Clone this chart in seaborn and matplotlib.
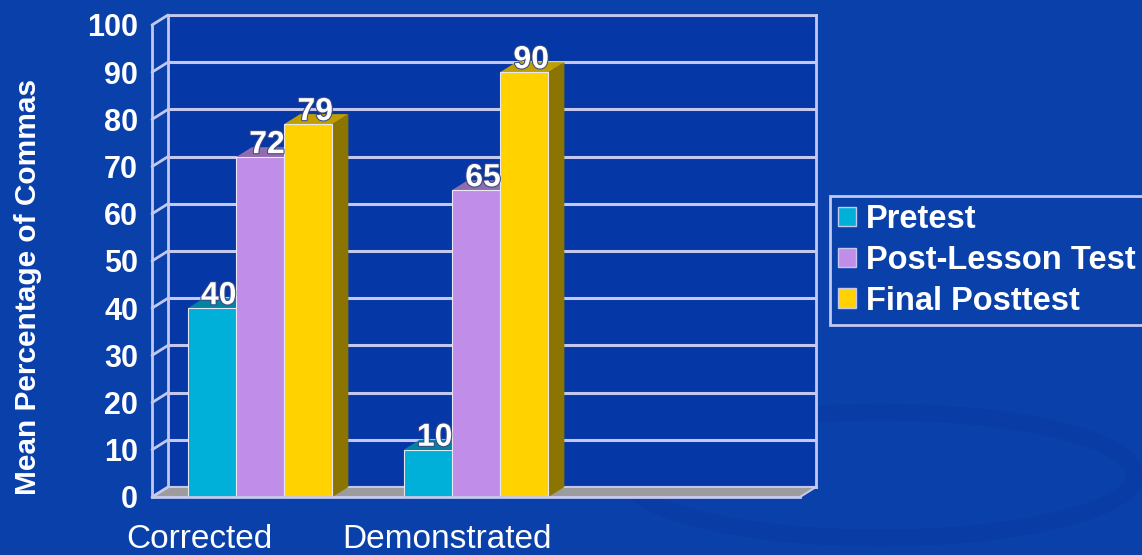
import matplotlib
matplotlib.use("Agg")
import matplotlib.pyplot as plt
from matplotlib.patches import Polygon, Rectangle, Ellipse
from matplotlib.colors import to_rgb
import matplotlib.patheffects as pe
import pandas as pd
import seaborn as sns

# data
categories = ["Corrected", "Demonstrated", ""]
tests = ["Pretest", "Post-Lesson Test", "Final Posttest"]
pretest = [40, 10]
post_lesson = [72, 65]
final_posttest = [79, 90]
yticks = list(range(0, 101, 10))

colors = ["#00b0d8", "#c08ee8", "#ffd200"]
bg = "#0a40aa"
wall = "#0537a6"
grid = "#c4c8ee"

rows = []
for test, vals in zip(tests, [pretest, post_lesson, final_posttest]):
    for cat, v in zip(categories, vals):
        rows.append({"category": cat, "test": test, "value": v})
df = pd.DataFrame(rows)

sns.set_style("white")
plt.rcParams["font.family"] = ["Liberation Sans", "DejaVu Sans"]

W, H = 1142, 555
def box(l, t, r, b):
    return [l / W, 1 - b / H, (r - l) / W, (b - t) / H]

fig = plt.figure(figsize=(W / 100, H / 100), dpi=100, facecolor=bg)

# faint swoosh in the background
fig.add_artist(Ellipse((880 / W, 1 - 475 / H), 510 / W, 126 / H, transform=fig.transFigure,
                       fill=False, ec="#08389e", lw=12, alpha=0.4, zorder=-1))

# back wall with gridlines
back = fig.add_axes(box(168, 15, 816, 487))
back.set_xlim(-0.5, 2.5)
back.set_ylim(0, 100)
back.set_facecolor(wall)
back.set_yticks(yticks)
back.set_xticks([])
back.tick_params(length=0, labelleft=False)
back.grid(axis="y", color=grid, lw=2.2)
for s in back.spines.values():
    s.set_color(grid)
    s.set_linewidth(2)

# front plane with the bars
ax = fig.add_axes(box(152, 25, 800, 497))
ax.patch.set_alpha(0)
sns.barplot(data=df, x="category", y="value", hue="test", order=categories, hue_order=tests,
            palette=colors, saturation=1, width=0.67, errorbar=None, ax=ax,
            edgecolor="#e8e8f4", linewidth=0.8, zorder=3)
ax.set_xlim(-0.5, 2.5)
ax.set_ylim(0, 100)
if ax.get_legend():
    ax.get_legend().remove()

# depth of the 3d effect in data units (16 px right, 10 px up)
dx = 16 / (648 / 3)
dy = 10 / (472 / 100)

def shade(c, f):
    r, g, b = to_rgb(c)
    return (r * f, g * f, b * f)

bars = [p for p in ax.patches if p.get_height() == p.get_height() and p.get_height() > 0]
for p in bars:
    x0, w, h = p.get_x(), p.get_width(), p.get_height()
    fc = p.get_facecolor()
    ax.add_patch(Polygon([(x0 + w, 0), (x0 + w + dx, dy), (x0 + w + dx, h + dy), (x0 + w, h)],
                         closed=True, fc=shade(fc, 0.55), ec="none", zorder=2, clip_on=False))
    ax.add_patch(Polygon([(x0, h), (x0 + w, h), (x0 + w + dx, h + dy), (x0 + dx, h + dy)],
                         closed=True, fc=shade(fc, 0.75), ec="none", zorder=2, clip_on=False))
    ax.annotate(f"{h:.0f}", xy=(x0 + w / 2, h), xytext=(7, 12), textcoords="offset pixels",
                ha="center", va="center", color="white", fontsize=23, fontweight="bold", zorder=6,
                path_effects=[pe.withStroke(linewidth=1.5, foreground="#3a4a80")])

# floor
ax.add_patch(Polygon([(-0.5, 0), (2.5, 0), (2.5 + dx, dy), (-0.5 + dx, dy)], closed=True,
                     fc="#9c9c9c", ec=grid, lw=1.5, zorder=1, clip_on=False))
for y in yticks:
    ax.plot([-0.5, -0.5 + dx], [y, y + dy], color=grid, lw=2, clip_on=False, zorder=1)

for s in ["top", "right"]:
    ax.spines[s].set_visible(False)
for s in ["left", "bottom"]:
    ax.spines[s].set_color(grid)
    ax.spines[s].set_linewidth(2)
    ax.spines[s].set_zorder(4)

ax.set_yticks(yticks)
ax.set_yticklabels([str(t) for t in yticks], fontsize=22, fontweight="bold", color="white")
ax.set_xticks([-0.5, 0.5, 1.5, 2.5])
ax.set_xticklabels([])
ax.tick_params(axis="both", direction="out", length=6, width=2, color=grid, pad=4)
ax.set_xlabel("")
ax.set_ylabel("")

# category labels sit left-aligned near each slot start
for i, cat in enumerate(categories):
    if cat:
        ax.annotate(cat, xy=(i - 0.5, 0), xycoords=("data", "axes fraction"),
                    xytext=(-26, -43), textcoords="offset pixels", ha="left", va="center",
                    fontsize=24, color="white")

fig.text(28 / W, 1 - 287 / H, "Mean Percentage of Commas", rotation=90, ha="center",
         va="center", fontsize=21.5, fontweight="bold", color="white")

handles = [Rectangle((0, 0), 1, 1, fc=c, ec=grid, lw=1) for c in colors]
leg = ax.legend(handles, tests, loc="upper left", bbox_to_anchor=(830 / W, 1 - 196 / H),
                bbox_transform=fig.transFigure, frameon=True, fancybox=False,
                facecolor=bg, edgecolor=grid, framealpha=1,
                prop={"size": 23.5, "weight": "bold"}, labelcolor="white",
                handlelength=0.55, handleheight=0.55, handletextpad=0.3,
                borderpad=0.25, labelspacing=0.3, borderaxespad=0)
leg.get_frame().set_linewidth(2)

fig.savefig("out.png", dpi=100, facecolor=bg)
